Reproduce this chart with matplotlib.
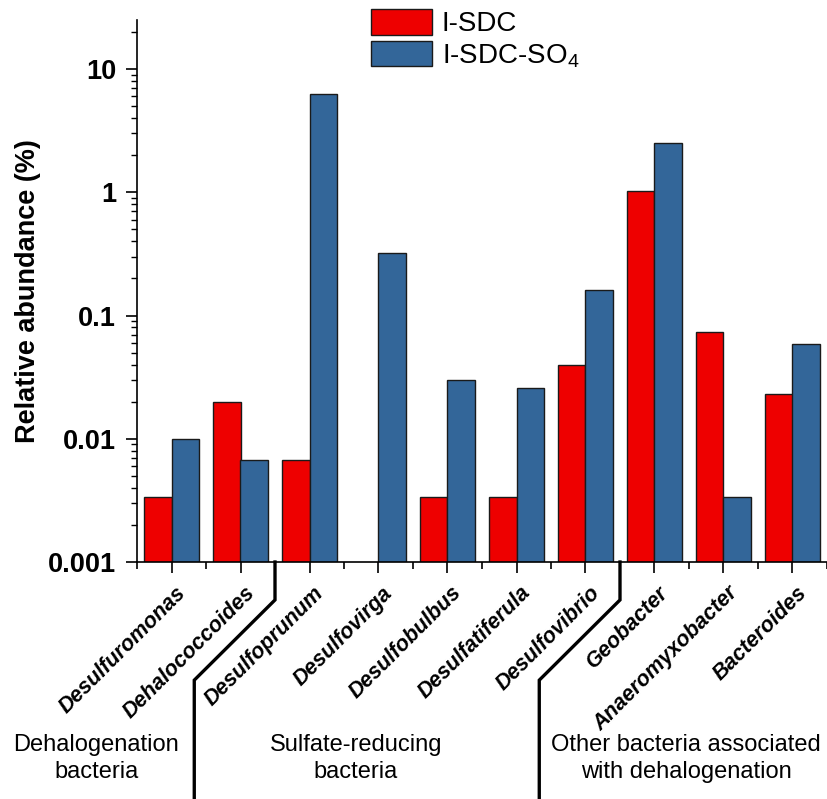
import numpy as np
import matplotlib.pyplot as plt
import matplotlib.transforms as mtransforms
from matplotlib.ticker import FixedLocator, FuncFormatter, LogLocator

plt.rcParams['font.family'] = ['Liberation Sans', 'DejaVu Sans']
plt.rcParams['mathtext.fontset'] = 'custom'
plt.rcParams['mathtext.rm'] = 'Liberation Sans'
plt.rcParams['mathtext.default'] = 'regular'

# relative abundance (%) of each genus in the two reactors
genera = ['Desulfuromonas', 'Dehalococcoides', 'Desulfoprunum', 'Desulfovirga',
          'Desulfobulbus', 'Desulfatiferula', 'Desulfovibrio', 'Geobacter',
          'Anaeromyxobacter', 'Bacteroides']
i_sdc = [0.0034, 0.020, 0.0067, 0, 0.0034, 0.0034, 0.040, 1.02, 0.073, 0.023]
i_sdc_so4 = [0.010, 0.0067, 6.3, 0.32, 0.030, 0.026, 0.16, 2.5, 0.0034, 0.059]

groups = ['Dehalogenation\nbacteria', 'Sulfate-reducing\nbacteria',
          'Other bacteria associated\nwith dehalogenation']
group_sizes = [2, 5, 3]

red = '#ee0000'
blue = '#336699'

fig = plt.figure(figsize=(8.28, 7.99), dpi=100)
ax = fig.add_axes([137/828, 1 - 562/799, 690/828, 542/799])

x = np.arange(len(genera))
w = 0.4
ax.bar(x - w/2, i_sdc, w, color=red, edgecolor='#1a1a1a', linewidth=1,
       label='I-SDC')
ax.bar(x + w/2, i_sdc_so4, w, color=blue, edgecolor='#1a1a1a', linewidth=1,
       label='I-SDC-SO$_4$')

ax.set_yscale('log')
ax.set_ylim(1e-3, 25)
ax.set_xlim(-0.5, len(genera) - 0.5)

ax.spines['top'].set_visible(False)
ax.spines['right'].set_visible(False)
for s in ('left', 'bottom'):
    ax.spines[s].set_linewidth(1.2)

ax.yaxis.set_major_locator(LogLocator(base=10, numticks=10))
ax.yaxis.set_minor_locator(LogLocator(base=10, subs=np.arange(2, 10), numticks=10))
ax.yaxis.set_major_formatter(FuncFormatter(lambda v, p: f'{v:g}'))
ax.tick_params(axis='y', which='major', direction='out', length=8, width=1.2,
               pad=7, labelsize=19.5)
ax.tick_params(axis='y', which='minor', direction='out', length=4, width=1.0)
for t in ax.get_yticklabels():
    t.set_fontweight('bold')

ax.set_xticks(x)
ax.xaxis.set_minor_locator(FixedLocator(np.arange(-0.5, len(genera), 1.0)))
ax.tick_params(axis='x', which='major', direction='out', length=8, width=1.2, pad=2)
ax.tick_params(axis='x', which='minor', direction='out', length=5, width=1.2)
ax.set_xticklabels(genera, rotation=45, ha='right', va='center',
                   rotation_mode='anchor', fontsize=15.5, fontweight='bold',
                   fontstyle='italic')
shift = mtransforms.ScaledTranslation(11/100, -14/100, fig.dpi_scale_trans)
for t in ax.get_xticklabels():
    t.set_transform(t.get_transform() + shift)

ax.set_ylabel('Relative abundance (%)', fontsize=19.5, fontweight='bold', labelpad=5)

# group separators below the axis
trans = mtransforms.blended_transform_factory(ax.transData, ax.transAxes)
edges = np.cumsum(group_sizes)[:-1] - 0.5
for b in edges:
    ax.plot([b, b, b - 1.17, b - 1.17], [0, -0.07, -0.218, -0.45],
            color='black', lw=2.4, transform=trans, clip_on=False,
            solid_joinstyle='miter')

group_x = [-1.09, 2.67, 7.46]
for gx, name in zip(group_x, groups):
    ax.text(gx, -0.362, name, transform=trans, ha='center', va='center',
            fontsize=17, linespacing=1.3)

leg = ax.legend(loc='upper left', bbox_to_anchor=(371/828, 1 - 9/799),
                bbox_transform=fig.transFigure, frameon=False, fontsize=20,
                handlelength=2.2, handleheight=1.05, handletextpad=0.35,
                labelspacing=0.12, borderpad=0, borderaxespad=0)

fig.savefig('out.png', dpi=100)
